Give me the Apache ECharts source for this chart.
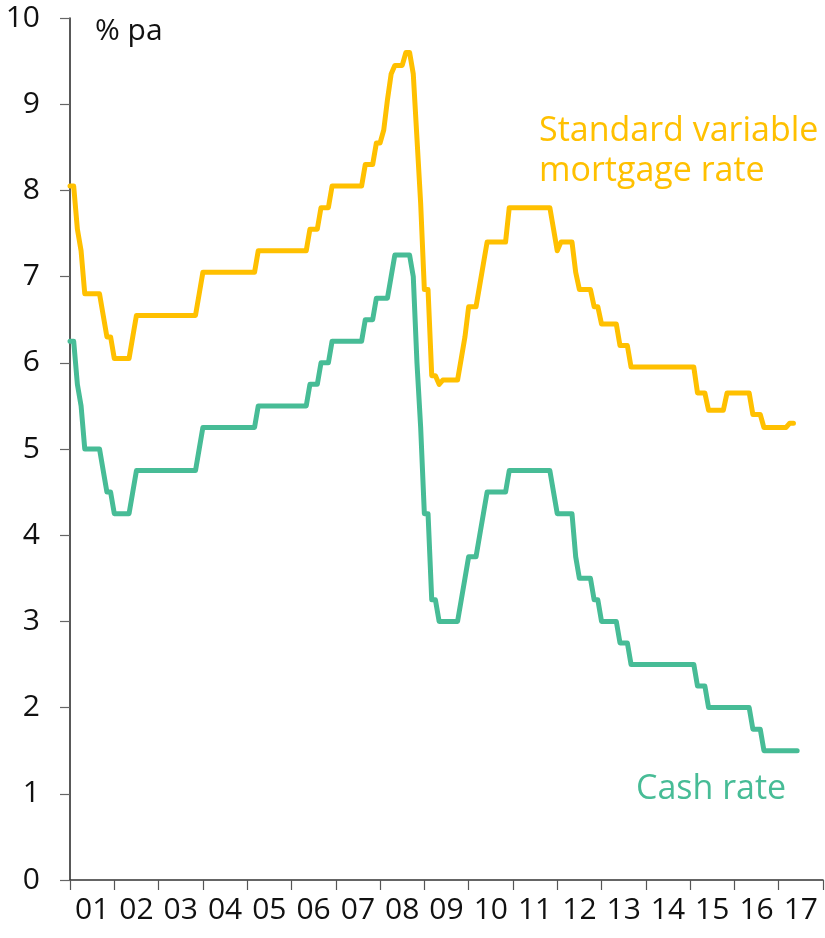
<!DOCTYPE html>
<html>
<head>
<meta charset="utf-8">
<script src="https://cdn.jsdelivr.net/npm/echarts@6/dist/echarts.min.js"></script>
<style>
  html, body { margin: 0; padding: 0; background: #fff; }
  #chart { width: 825px; height: 938px; }
</style>
</head>
<body>
<div id="chart"></div>
<script>
// year labels on the x axis
var yearLabels = ['01','02','03','04','05','06','07','08','09','10','11','12','13','14','15','16','17'];

// monthly values, end of month, starting Dec 2000
var cashRate = [
    6.25,
    6.25, 5.75, 5.5, 5.0, 5.0, 5.0, 5.0, 5.0, 4.75, 4.5, 4.5, 4.25,          // 2001
    4.25, 4.25, 4.25, 4.25, 4.5, 4.75, 4.75, 4.75, 4.75, 4.75, 4.75, 4.75,   // 2002
    4.75, 4.75, 4.75, 4.75, 4.75, 4.75, 4.75, 4.75, 4.75, 4.75, 5.0, 5.25,   // 2003
    5.25, 5.25, 5.25, 5.25, 5.25, 5.25, 5.25, 5.25, 5.25, 5.25, 5.25, 5.25,  // 2004
    5.25, 5.25, 5.5, 5.5, 5.5, 5.5, 5.5, 5.5, 5.5, 5.5, 5.5, 5.5,            // 2005
    5.5, 5.5, 5.5, 5.5, 5.75, 5.75, 5.75, 6.0, 6.0, 6.0, 6.25, 6.25,         // 2006
    6.25, 6.25, 6.25, 6.25, 6.25, 6.25, 6.25, 6.5, 6.5, 6.5, 6.75, 6.75,     // 2007
    6.75, 6.75, 7.0, 7.25, 7.25, 7.25, 7.25, 7.25, 7.0, 6.0, 5.25, 4.25,     // 2008
    4.25, 3.25, 3.25, 3.0, 3.0, 3.0, 3.0, 3.0, 3.0, 3.25, 3.5, 3.75,         // 2009
    3.75, 3.75, 4.0, 4.25, 4.5, 4.5, 4.5, 4.5, 4.5, 4.5, 4.75, 4.75,         // 2010
    4.75, 4.75, 4.75, 4.75, 4.75, 4.75, 4.75, 4.75, 4.75, 4.75, 4.5, 4.25,   // 2011
    4.25, 4.25, 4.25, 4.25, 3.75, 3.5, 3.5, 3.5, 3.5, 3.25, 3.25, 3.0,       // 2012
    3.0, 3.0, 3.0, 3.0, 2.75, 2.75, 2.75, 2.5, 2.5, 2.5, 2.5, 2.5,           // 2013
    2.5, 2.5, 2.5, 2.5, 2.5, 2.5, 2.5, 2.5, 2.5, 2.5, 2.5, 2.5,              // 2014
    2.5, 2.25, 2.25, 2.25, 2.0, 2.0, 2.0, 2.0, 2.0, 2.0, 2.0, 2.0,           // 2015
    2.0, 2.0, 2.0, 2.0, 1.75, 1.75, 1.75, 1.5, 1.5, 1.5, 1.5, 1.5,           // 2016
    1.5, 1.5, 1.5, 1.5, 1.5                                                  // 2017
];

var mortgageRate = [
    8.05,
    8.05, 7.55, 7.3, 6.8, 6.8, 6.8, 6.8, 6.8, 6.55, 6.3, 6.3, 6.05,          // 2001
    6.05, 6.05, 6.05, 6.05, 6.3, 6.55, 6.55, 6.55, 6.55, 6.55, 6.55, 6.55,   // 2002
    6.55, 6.55, 6.55, 6.55, 6.55, 6.55, 6.55, 6.55, 6.55, 6.55, 6.8, 7.05,   // 2003
    7.05, 7.05, 7.05, 7.05, 7.05, 7.05, 7.05, 7.05, 7.05, 7.05, 7.05, 7.05,  // 2004
    7.05, 7.05, 7.3, 7.3, 7.3, 7.3, 7.3, 7.3, 7.3, 7.3, 7.3, 7.3,            // 2005
    7.3, 7.3, 7.3, 7.3, 7.55, 7.55, 7.55, 7.8, 7.8, 7.8, 8.05, 8.05,         // 2006
    8.05, 8.05, 8.05, 8.05, 8.05, 8.05, 8.05, 8.3, 8.3, 8.3, 8.55, 8.55,     // 2007
    8.7, 9.05, 9.35, 9.45, 9.45, 9.45, 9.6, 9.6, 9.35, 8.6, 7.85, 6.85,      // 2008
    6.85, 5.85, 5.85, 5.75, 5.8, 5.8, 5.8, 5.8, 5.8, 6.05, 6.3, 6.65,        // 2009
    6.65, 6.65, 6.9, 7.15, 7.4, 7.4, 7.4, 7.4, 7.4, 7.4, 7.8, 7.8,           // 2010
    7.8, 7.8, 7.8, 7.8, 7.8, 7.8, 7.8, 7.8, 7.8, 7.8, 7.55, 7.3,             // 2011
    7.4, 7.4, 7.4, 7.4, 7.05, 6.85, 6.85, 6.85, 6.85, 6.65, 6.65, 6.45,      // 2012
    6.45, 6.45, 6.45, 6.45, 6.2, 6.2, 6.2, 5.95, 5.95, 5.95, 5.95, 5.95,     // 2013
    5.95, 5.95, 5.95, 5.95, 5.95, 5.95, 5.95, 5.95, 5.95, 5.95, 5.95, 5.95,  // 2014
    5.95, 5.65, 5.65, 5.65, 5.45, 5.45, 5.45, 5.45, 5.45, 5.65, 5.65, 5.65,  // 2015
    5.65, 5.65, 5.65, 5.65, 5.4, 5.4, 5.4, 5.25, 5.25, 5.25, 5.25, 5.25,     // 2016
    5.25, 5.25, 5.3, 5.3                                                     // 2017
];

var startYear = 2001;
var endYear = 2018;

function toPoints(values) {
    // point i sits at the end of month i, counted from Dec 2000
    var pts = [];
    for (var i = 0; i < values.length; i++) {
        pts.push([startYear + i / 12, values[i]]);
    }
    return pts;
}

var myChart = echarts.init(document.getElementById('chart'));
var font = '"Open Sans", Lato, sans-serif';

var option = {
    animation: false,
    grid: { left: 70, right: 2, top: 18, bottom: 58 },
    xAxis: [{
        type: 'category',
        data: yearLabels,
        boundaryGap: true,
        position: 'bottom',
        axisLine: { lineStyle: { color: '#333', width: 1.5 } },
        axisTick: { show: true, length: 10, interval: 0, lineStyle: { color: '#555', width: 1.2 } },
        axisLabel: { interval: 0, margin: 15, fontSize: 30, color: '#111', fontFamily: font },
        splitLine: { show: false }
    }, {
        type: 'value',
        min: startYear,
        max: endYear,
        show: false
    }],
    yAxis: {
        type: 'value',
        min: 0,
        max: 10,
        interval: 1,
        axisLine: { show: true, lineStyle: { color: '#222', width: 1.5 } },
        axisTick: { show: true, length: 10, lineStyle: { color: '#666', width: 1.2 } },
        axisLabel: { margin: 30, fontSize: 30, color: '#111', fontFamily: font },
        splitLine: { show: false }
    },
    series: [{
        name: 'Standard variable mortgage rate',
        type: 'line',
        xAxisIndex: 1,
        data: toPoints(mortgageRate),
        showSymbol: false,
        lineStyle: { color: '#FFC000', width: 5, cap: 'round', join: 'round' }
    }, {
        name: 'Cash rate',
        type: 'line',
        xAxisIndex: 1,
        data: toPoints(cashRate),
        showSymbol: false,
        lineStyle: { color: '#47BC96', width: 5, cap: 'round', join: 'round' }
    }],
    graphic: [{
        type: 'text', left: 95, top: 16,
        style: { text: '% pa', fontSize: 30, fill: '#111', fontFamily: font }
    }, {
        type: 'text', left: 539, top: 111,
        style: { text: 'Standard variable\nmortgage rate', fontSize: 34, lineHeight: 40, fill: '#FFC000', fontFamily: font }
    }, {
        type: 'text', left: 636, top: 772,
        style: { text: 'Cash rate', fontSize: 34, fill: '#47BC96', fontFamily: font }
    }]
};

myChart.setOption(option);
</script>
</body>
</html>
